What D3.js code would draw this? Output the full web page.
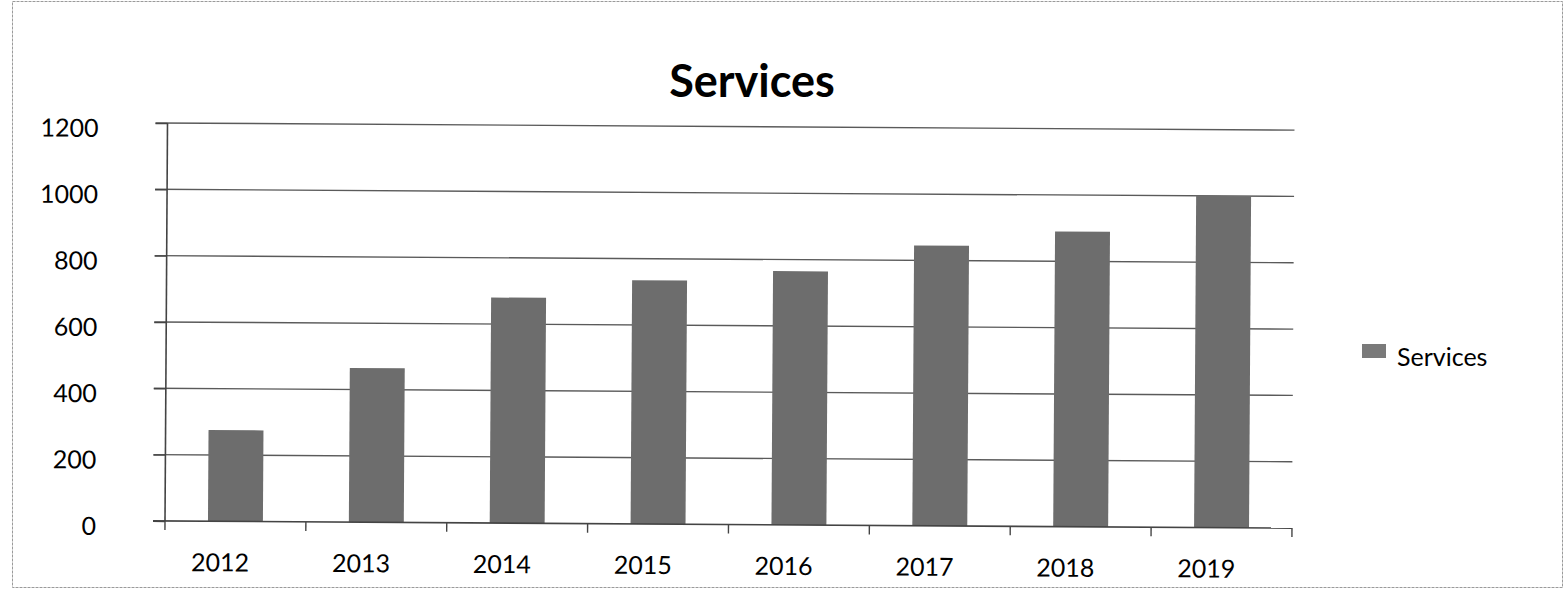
<!DOCTYPE html>
<html>
<head>
<meta charset="utf-8">
<script src="https://cdn.jsdelivr.net/npm/d3@7/dist/d3.min.js"></script>
<style>
  html, body { margin: 0; padding: 0; background: #fff; }
  svg { display: block; font-family: Lato, "Open Sans", sans-serif; }
</style>
</head>
<body>
<svg id="chart" width="1566" height="592"></svg>
<script>
const categories = ["2012", "2013", "2014", "2015", "2016", "2017", "2018", "2019"];
const values = [275, 465, 680, 735, 765, 845, 890, 1000];
const yTicks = [0, 200, 400, 600, 800, 1000, 1200];
const seriesName = "Services";
const chartTitle = "Services";

(function () {
const svg = d3.select("#chart");

// outer frame
svg.append("rect")
  .attr("x", 12.5).attr("y", 1.5).attr("width", 1550).attr("height", 586)
  .attr("fill", "none").attr("stroke", "#9a9a9a").attr("stroke-width", 1)
  .attr("stroke-dasharray", "3,1");

const pLeft = 165, pRight = 1292, pTop = 123, pBottom = 521;

const x = d3.scaleBand().domain(categories).range([pLeft, pRight]).paddingInner(0.61).paddingOuter(0.305);
const xb = d3.scaleBand().domain(categories).range([pLeft, pRight]).padding(0);
const y = d3.scaleLinear().domain([0, 1200]).range([pBottom, pTop]);

// title
svg.append("text")
  .attr("x", 752).attr("y", 97)
  .attr("text-anchor", "middle")
  .attr("font-size", 45).attr("font-weight", 700).attr("fill", "#000")
  .text(chartTitle);

// plot group, slightly rotated like the scan
const g = svg.append("g").attr("transform", `rotate(0.36, ${pLeft}, ${pBottom})`);

// gridlines
g.append("g").selectAll("line").data(yTicks.filter(d => d > 0)).join("line")
  .attr("x1", pLeft - 12).attr("x2", pRight)
  .attr("y1", d => y(d)).attr("y2", d => y(d))
  .attr("stroke", "#5a5a5a").attr("stroke-width", 1.4);

// bars
g.append("g").selectAll("rect").data(values).join("rect")
  .attr("x", (d, i) => x(categories[i]))
  .attr("width", x.bandwidth())
  .attr("y", d => y(d))
  .attr("height", d => y(0) - y(d))
  .attr("fill", "#6d6d6d");

// y axis
const yAxis = d3.axisLeft(y).tickValues(yTicks).tickSize(12).tickPadding(57).tickFormat(d3.format("d"));
const ya = g.append("g").attr("transform", `translate(${pLeft},0)`).call(yAxis);
ya.select(".domain").attr("stroke", "#444").attr("stroke-width", 1.6).attr("d", `M0,${pTop}V${pBottom}`);
ya.selectAll(".tick line").attr("stroke", "#444").attr("stroke-width", 1.4);
ya.selectAll(".tick text").attr("font-size", 25).attr("fill", "#000").attr("dy", "0.55em")
  .attr("font-family", "Lato, sans-serif");

// x axis
const xa = g.append("g").attr("transform", `translate(0,${pBottom})`);
xa.append("line").attr("x1", pLeft - 12).attr("x2", pRight).attr("y1", 0).attr("y2", 0)
  .attr("stroke", "#444").attr("stroke-width", 1.6);
const bounds = categories.map(c => xb(c)).concat([pRight]);
xa.selectAll("line.tk").data(bounds).join("line").attr("class", "tk")
  .attr("x1", d => d).attr("x2", d => d).attr("y1", 0).attr("y2", 9)
  .attr("stroke", "#444").attr("stroke-width", 1.4);
xa.selectAll("text").data(categories).join("text")
  .attr("x", d => xb(d) + xb.bandwidth() / 2 - 15)
  .attr("y", 50)
  .attr("text-anchor", "middle")
  .attr("font-size", 25).attr("fill", "#000")
  .text(d => d);

// legend
const lg = svg.append("g");
lg.append("rect").attr("x", 1362).attr("y", 344).attr("width", 24).attr("height", 14)
  .attr("fill", "#7a7a7a");
lg.append("text").attr("x", 1397).attr("y", 366).attr("font-size", 25).attr("fill", "#000")
  .text(seriesName);
})();
</script>
</body>
</html>
